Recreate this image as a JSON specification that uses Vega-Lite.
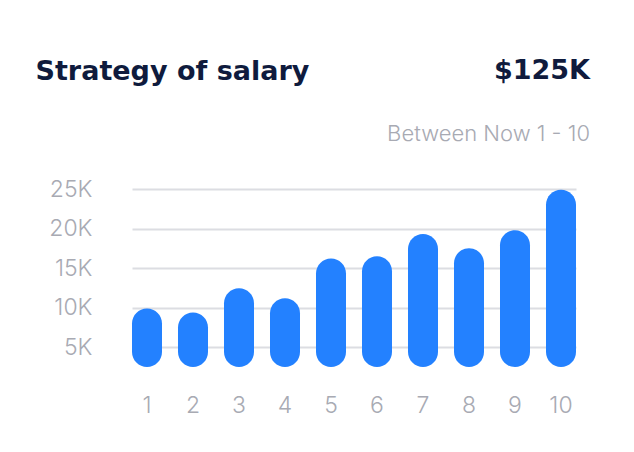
{
  "$schema": "https://vega.github.io/schema/vega-lite/v6.json",
  "autosize": {"type": "none"},
  "width": 444,
  "height": 178,
  "padding": {"left": 132, "top": 189, "right": 58, "bottom": 85},
  "background": "white",
  "title": {
    "text": "$125K",
    "subtitle": "Between Now 1 - 10",
    "anchor": "end",
    "frame": "group",
    "dx": 14,
    "dy": 135,
    "offset": 46,
    "font": "DejaVu Sans",
    "fontSize": 27,
    "fontWeight": 700,
    "color": "#0f1b3d",
    "subtitleFont": "Inter",
    "subtitleFontSize": 22,
    "subtitleFontWeight": 300,
    "subtitleColor": "#a8aab3",
    "subtitlePadding": 39
  },
  "data": {
    "values": [
      {"n": "1", "salary": 9900},
      {"n": "2", "salary": 9400},
      {"n": "3", "salary": 12450},
      {"n": "4", "salary": 11200},
      {"n": "5", "salary": 16200},
      {"n": "6", "salary": 16500},
      {"n": "7", "salary": 19300},
      {"n": "8", "salary": 17500},
      {"n": "9", "salary": 19800},
      {"n": "10", "salary": 24900}
    ]
  },
  "mark": {"type": "bar", "color": "#2381ff", "cornerRadius": 15},
  "encoding": {
    "x": {
      "field": "n",
      "type": "ordinal",
      "sort": null,
      "scale": {"paddingInner": 0.3478, "paddingOuter": 0},
      "axis": {
        "title": null,
        "labelAngle": 0,
        "labelFont": "Inter",
        "labelFontSize": 23,
        "labelFontWeight": 300,
        "labelColor": "#a8aab3",
        "labelPadding": 27,
        "ticks": false,
        "domain": false,
        "grid": false
      }
    },
    "y": {
      "field": "salary",
      "type": "quantitative",
      "scale": {"domain": [2500, 25000], "zero": false, "nice": false},
      "axis": {
        "values": [5000, 10000, 15000, 20000, 25000],
        "labelExpr": "datum.value / 1000 + 'K'",
        "labelFont": "Inter",
        "labelFontSize": 23,
        "labelFontWeight": 300,
        "labelColor": "#a8aab3",
        "labelPadding": 40,
        "ticks": false,
        "domain": false,
        "grid": true,
        "gridColor": "#dcdde2",
        "gridWidth": 2,
        "title": "Strategy of salary",
        "titleAngle": 0,
        "titleAlign": "left",
        "titleBaseline": "alphabetic",
        "titleX": -97,
        "titleY": -110,
        "titleFont": "DejaVu Sans",
        "titleFontSize": 27,
        "titleFontWeight": 700,
        "titleColor": "#0f1b3d"
      }
    },
    "y2": {"datum": 2500}
  },
  "config": {"view": {"stroke": null}}
}
